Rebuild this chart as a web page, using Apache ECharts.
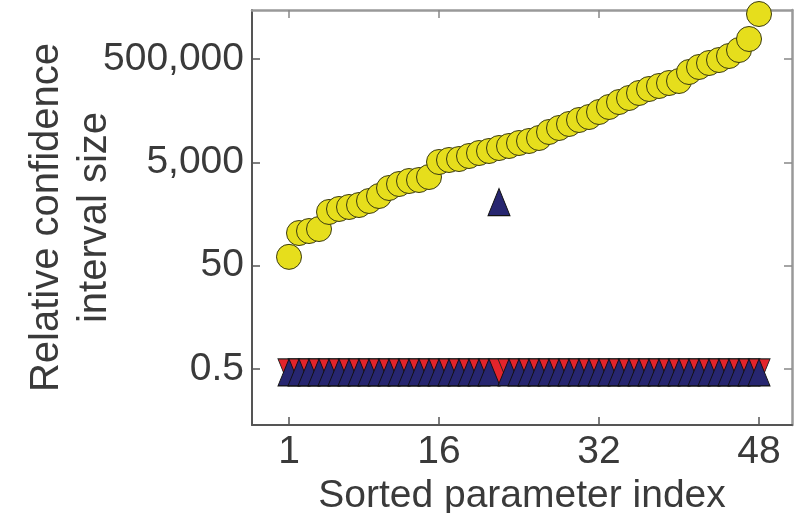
<!DOCTYPE html>
<html>
<head>
<meta charset="utf-8">
<script src="https://cdn.jsdelivr.net/npm/echarts@6/dist/echarts.min.js"></script>
<style>html,body{margin:0;padding:0;background:#fff}#c{width:810px;height:513px}</style>
</head>
<body>
<div id="c"></div>
<script>
// Sorted parameter index 1..48
const indices = Array.from({length: 48}, (_, i) => i + 1);
// Relative confidence interval size (yellow circles)
const yellowValues = [74, 214, 234, 256, 547, 625, 683, 746, 892, 1114,
  1592, 1901, 2174, 2274, 2600, 5070, 5545, 5795, 6625, 7570,
  8280, 9460, 10350, 11830, 12940, 14790, 19320, 23080, 27600, 32960,
  37670, 47090, 58850, 73450, 87900, 109900, 131200, 150000, 171400, 187500,
  279900, 349900, 417900, 477500, 571000, 746000, 1219000, 3715000];
// Blue up-triangles: all at the floor except one
const blueValues = indices.map(i => (i === 22 ? 850 : 0.43));
// Red down-triangles: all at the floor
const redValues = indices.map(() => 0.43);
// Tick values
const xTicks = [1, 16, 32, 48];
const yTicks = [0.5, 50, 5000, 500000];

const pairs = vals => vals.map((v, i) => [indices[i], v]);
const FONT = 'Liberation Sans';
const chart = echarts.init(document.getElementById('c'));
const tickInside = (vals, main) => ({show: true, inside: true, length: 8, customValues: vals, lineStyle: {color: main ? '#555' : '#888', width: 1.5}});
chart.setOption({
  animation: false,
  grid: {left: 252, right: 18, top: 10, bottom: 88, containLabel: false, outerBoundsMode: 'none'},
  xAxis: [{
    type: 'value', min: -2.7, max: 51.3, position: 'bottom',
    axisLine: {show: true, onZero: false, lineStyle: {color: '#555', width: 2}},
    axisTick: tickInside(xTicks, true),
    axisLabel: {customValues: xTicks, fontFamily: FONT, fontSize: 39, color: '#3a3a3a', margin: 8},
    splitLine: {show: false},
    name: 'Sorted parameter index', nameLocation: 'middle', nameGap: 52, nameMoveOverlap: false,
    nameTextStyle: {fontFamily: FONT, fontSize: 39, color: '#3a3a3a', verticalAlign: 'top'}
  }, {
    type: 'value', min: -2.7, max: 51.3, position: 'top',
    axisLine: {show: true, onZero: false, lineStyle: {color: '#999', width: 2.5}},
    axisTick: tickInside(xTicks, false),
    axisLabel: {show: false}, splitLine: {show: false}
  }],
  yAxis: [{
    type: 'log', min: 0.0412, max: 4.44e6, position: 'left',
    axisLine: {show: true, onZero: false, lineStyle: {color: '#555', width: 2}},
    axisTick: tickInside(yTicks, true),
    axisLabel: {customValues: yTicks, fontFamily: FONT, fontSize: 39, color: '#3a3a3a', margin: 8,
      formatter: v => Number(v).toLocaleString('en-US')},
    splitLine: {show: false},
    name: 'Relative confidence\ninterval size', nameLocation: 'middle', nameRotate: 90, nameGap: 133, nameMoveOverlap: false,
    nameTextStyle: {fontFamily: FONT, fontSize: 40, color: '#3a3a3a', lineHeight: 48, align: 'center'}
  }, {
    type: 'log', min: 0.0412, max: 4.44e6, position: 'right',
    axisLine: {show: true, onZero: false, lineStyle: {color: '#999', width: 2.5}},
    axisTick: tickInside(yTicks, false),
    axisLabel: {show: false}, splitLine: {show: false}
  }],
  series: [{
    type: 'scatter', name: 'red', data: pairs(redValues),
    symbol: 'triangle', symbolRotate: 180, symbolSize: [22, 27],
    itemStyle: {color: '#E4242B', borderColor: '#222', borderWidth: 1, opacity: 1}
  }, {
    type: 'scatter', name: 'blue', data: pairs(blueValues),
    symbol: 'triangle', symbolSize: [22, 27],
    itemStyle: {color: '#272670', borderColor: '#111', borderWidth: 1, opacity: 1}
  }, {
    type: 'scatter', name: 'yellow', data: pairs(yellowValues),
    symbol: 'circle', symbolSize: 25, clip: true,
    itemStyle: {color: '#E6DE1C', borderColor: '#3a3a10', borderWidth: 1, opacity: 1}
  }]
});
</script>
</body>
</html>
